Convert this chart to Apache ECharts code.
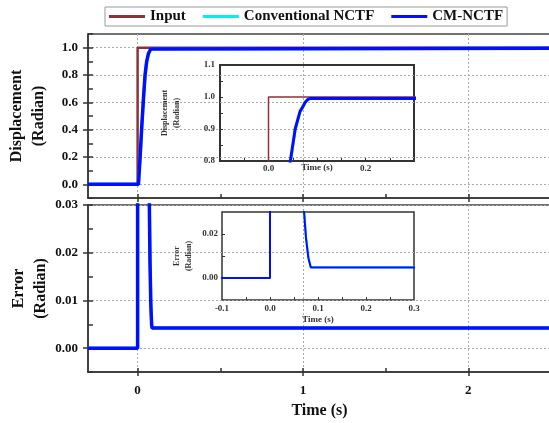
<!DOCTYPE html>
<html lang="en">
<head>
<meta charset="UTF-8">
<title>Displacement and error</title>
<script src="https://cdn.jsdelivr.net/npm/echarts@6/dist/echarts.min.js"></script>
<style>html,body{margin:0;padding:0;background:#fff;}</style>
</head>
<body>
<div id="pic1" style="width:549px;height:423px;"></div>
<script>
// values
var tInput = [-0.3, 0, 0, 2.5];
var yInput = [0, 0, 1, 1];

var tResp = [-0.3, 0.005, 0.015, 0.025, 0.035, 0.045, 0.055, 0.065, 0.071, 0.075, 0.08, 0.085, 0.088, 2.5];
var yConv = [0, 0, 0.19, 0.41, 0.61, 0.79, 0.895, 0.953, 0.969, 0.981, 0.991, 0.9955, 0.9958, 0.9958];
var yCM   = [0, 0, 0.2, 0.42, 0.62, 0.8, 0.9, 0.955, 0.97, 0.982, 0.991, 0.9955, 0.9958, 0.9958];

var tErr  = [-0.3, 0, 0, 0.065, 0.071, 0.075, 0.08, 0.085, 0.088, 2.5];
var eConv = [0, 0, 1, 0.047, 0.031, 0.019, 0.0095, 0.005, 0.0042, 0.0042];
var eCM   = [0, 0, 1, 0.045, 0.03, 0.018, 0.009, 0.0048, 0.0042, 0.0042];

// tick values
var xMajor = [0, 1, 2];
var xAll = [0, 0.5, 1, 1.5, 2];
var dispMajor = [0, 0.2, 0.4, 0.6, 0.8, 1.0];
var dispAll = [-0.1, 0, 0.1, 0.2, 0.3, 0.4, 0.5, 0.6, 0.7, 0.8, 0.9, 1.0, 1.1];
var errMajor = [0, 0.01, 0.02, 0.03];
var errAll = [-0.005, 0, 0.005, 0.01, 0.015, 0.02, 0.025, 0.03];
var zDispLabels = [0.8, 0.9, 1.0, 1.1];
var zDispTicks = [0.85, 0.9, 0.95, 1.0, 1.05];
var zTimeLabels1 = [0, 0.2];
var zTimeLabels2 = [-0.1, 0, 0.1, 0.2, 0.3];
var zTimeTicks = [-0.05, 0, 0.05, 0.1, 0.15, 0.2, 0.25];
var zErrLabels = [0, 0.02];
var zErrTicks = [0, 0.01, 0.02];

var names = ['Input', 'Conventional NCTF', 'CM-NCTF'];
var colors = ['#8c3238', '#00f0f0', '#0010ff'];

var serif = 'Liberation Serif';
var gridLine = {show: true, lineStyle: {color: '#aaa', type: [2, 2], width: 1}};
var axisLine = {show: true, onZero: false, lineStyle: {color: '#333', width: 1.5}};
var noLine = {show: false, onZero: false};

function pairs(ts, ys) {
    return ts.map(function (t, i) { return [t, ys[i]]; });
}

function line(name, gi, ts, ys, w) {
    var c = colors[names.indexOf(name)];
    return {
        name: name, type: 'line', xAxisIndex: gi, yAxisIndex: gi,
        data: pairs(ts, ys), showSymbol: false, symbol: 'none',
        lineStyle: {color: c, width: w}, itemStyle: {color: c},
        animation: false, clip: true
    };
}

var myChart = echarts.init(document.getElementById('pic1'));

var option = {
    backgroundColor: '#fff',
    animation: false,
    legend: {
        data: names, left: 105, top: 7,
        itemWidth: 36, itemHeight: 3, itemGap: 17, icon: 'rect',
        borderColor: '#999', borderWidth: 1, padding: [2, 4],
        textStyle: {fontFamily: serif, fontWeight: 'bold', fontSize: 15, color: '#111'}
    },
    grid: [
        {left: 88, top: 34, width: 463, height: 164, show: true, borderColor: '#444', borderWidth: 1.5, outerBoundsMode: 'none'},
        {left: 88, top: 205, width: 463, height: 167, show: true, borderColor: '#444', borderWidth: 1.5, outerBoundsMode: 'none'},
        {left: 220, top: 65, width: 194, height: 96, show: true, borderColor: '#333', borderWidth: 2, outerBoundsMode: 'none'},
        {left: 222, top: 212, width: 192, height: 88, show: true, borderColor: '#333', borderWidth: 1.5, outerBoundsMode: 'none'}
    ],
    xAxis: [
        // top panel
        {type: 'value', gridIndex: 0, min: -0.3, max: 2.5, position: 'bottom',
            axisLine: axisLine, splitLine: gridLine,
            axisTick: {customValues: xMajor, length: 4, lineStyle: {color: '#333', width: 1.5}},
            axisLabel: {show: false}},
        // bottom panel
        {type: 'value', gridIndex: 1, min: -0.3, max: 2.5, position: 'bottom',
            axisLine: axisLine, splitLine: gridLine,
            axisTick: {customValues: xMajor, length: 4, lineStyle: {color: '#333', width: 1.5}},
            axisLabel: {customValues: xMajor, margin: 12, fontFamily: serif, fontWeight: 'bold', fontSize: 13, color: '#111',
                formatter: function (v) { return String(Math.round(v)); }},
            name: 'Time (s)', nameLocation: 'middle', nameGap: 31, nameMoveOverlap: false,
            nameTextStyle: {fontFamily: serif, fontWeight: 'bold', fontSize: 16, color: '#111'}},
        // inset 1
        {type: 'value', gridIndex: 2, min: -0.1, max: 0.3, position: 'bottom',
            axisLine: noLine, splitLine: {show: false},
            axisTick: {customValues: zTimeTicks, inside: true, length: 3, lineStyle: {color: '#333'}},
            axisLabel: {customValues: zTimeLabels1, margin: 3, fontFamily: serif, fontWeight: 'bold', fontSize: 9, color: '#333',
                formatter: function (v) { return v.toFixed(1); }},
            name: 'Time (s)', nameLocation: 'middle', nameGap: 2, nameMoveOverlap: false,
            nameTextStyle: {fontFamily: serif, fontWeight: 'bold', fontSize: 9, color: '#333', verticalAlign: 'top'}},
        // inset 2
        {type: 'value', gridIndex: 3, min: -0.1, max: 0.3, position: 'bottom',
            axisLine: noLine, splitLine: {show: false},
            axisTick: {customValues: zTimeTicks, inside: true, length: 3, lineStyle: {color: '#333'}},
            axisLabel: {customValues: zTimeLabels2, margin: 4, fontFamily: serif, fontWeight: 'bold', fontSize: 9, color: '#333',
                formatter: function (v) { return v.toFixed(1); }},
            name: 'Time (s)', nameLocation: 'middle', nameGap: 15, nameMoveOverlap: false,
            nameTextStyle: {fontFamily: serif, fontWeight: 'bold', fontSize: 9, color: '#333', verticalAlign: 'top'}},
        // minor ticks, main panels
        {type: 'value', gridIndex: 0, min: -0.3, max: 2.5, position: 'bottom',
            axisLine: noLine, splitLine: {show: false}, axisLabel: {show: false},
            axisTick: {customValues: xAll, inside: true, length: 4, lineStyle: {color: '#333', width: 1.5}}},
        {type: 'value', gridIndex: 1, min: -0.3, max: 2.5, position: 'bottom',
            axisLine: noLine, splitLine: {show: false}, axisLabel: {show: false},
            axisTick: {customValues: xAll, inside: true, length: 4, lineStyle: {color: '#333', width: 1.5}}}
    ],
    yAxis: [
        {type: 'value', gridIndex: 0, min: -0.1, max: 1.1, position: 'left',
            axisLine: axisLine, splitLine: gridLine,
            axisTick: {customValues: dispMajor, length: 5, lineStyle: {color: '#333', width: 1.5}},
            axisLabel: {customValues: dispMajor, margin: 10, fontFamily: serif, fontWeight: 'bold', fontSize: 13, color: '#111',
                formatter: function (v) { return v.toFixed(1); }},
            name: 'Displacement\n(Radian)', nameLocation: 'middle', nameGap: 38, nameMoveOverlap: false,
            nameTextStyle: {fontFamily: serif, fontWeight: 'bold', fontSize: 16, lineHeight: 22, color: '#111'}},
        {type: 'value', gridIndex: 1, min: -0.005, max: 0.03, position: 'left',
            axisLine: axisLine, splitLine: gridLine,
            axisTick: {customValues: errMajor, length: 5, lineStyle: {color: '#333', width: 1.5}},
            axisLabel: {customValues: errMajor, margin: 10, fontFamily: serif, fontWeight: 'bold', fontSize: 13, color: '#111',
                formatter: function (v) { return v.toFixed(2); }},
            name: 'Error\n(Radian)', nameLocation: 'middle', nameGap: 36, nameMoveOverlap: false,
            nameTextStyle: {fontFamily: serif, fontWeight: 'bold', fontSize: 16, lineHeight: 22, color: '#111'}},
        {type: 'value', gridIndex: 2, min: 0.8, max: 1.1, position: 'left',
            axisLine: noLine, splitLine: {show: false},
            axisTick: {customValues: zDispTicks, inside: true, length: 3, lineStyle: {color: '#333'}},
            axisLabel: {customValues: zDispLabels, margin: 5, fontFamily: serif, fontWeight: 'bold', fontSize: 9, color: '#333',
                formatter: function (v) { return v.toFixed(1); }},
            name: 'Displacement\n(Radian)', nameLocation: 'middle', nameGap: 37, nameMoveOverlap: false,
            nameTextStyle: {fontFamily: serif, fontWeight: 'bold', fontSize: 8, lineHeight: 12, color: '#333'}},
        {type: 'value', gridIndex: 3, min: -0.01, max: 0.03, position: 'left',
            axisLine: noLine, splitLine: {show: false},
            axisTick: {customValues: zErrTicks, inside: true, length: 3, lineStyle: {color: '#333'}},
            axisLabel: {customValues: zErrLabels, margin: 4, fontFamily: serif, fontWeight: 'bold', fontSize: 9, color: '#333',
                formatter: function (v) { return v.toFixed(2); }},
            name: 'Error\n(Radian)', nameLocation: 'middle', nameGap: 27, nameMoveOverlap: false,
            nameTextStyle: {fontFamily: serif, fontWeight: 'bold', fontSize: 8, lineHeight: 12, color: '#333'}},
        {type: 'value', gridIndex: 0, min: -0.1, max: 1.1, position: 'left',
            axisLine: noLine, splitLine: {show: false}, axisLabel: {show: false},
            axisTick: {customValues: dispAll, inside: true, length: 5, lineStyle: {color: '#333', width: 1.5}}},
        {type: 'value', gridIndex: 1, min: -0.005, max: 0.03, position: 'left',
            axisLine: noLine, splitLine: {show: false}, axisLabel: {show: false},
            axisTick: {customValues: errAll, inside: true, length: 5, lineStyle: {color: '#333', width: 1.5}}}
    ],
    series: [
        line('Input', 0, tInput, yInput, 2.5),
        line('Conventional NCTF', 0, tResp, yConv, 3),
        line('CM-NCTF', 0, tResp, yCM, 3.5),
        line('Conventional NCTF', 1, tErr, eConv, 3),
        line('CM-NCTF', 1, tErr, eCM, 3.5),
        line('Input', 2, tInput, yInput, 1.5),
        line('Conventional NCTF', 2, tResp, yConv, 2.5),
        line('CM-NCTF', 2, tResp, yCM, 3),
        line('Conventional NCTF', 3, tErr, eConv, 2),
        line('CM-NCTF', 3, tErr, eCM, 2)
    ]
};

myChart.setOption(option);
</script>
</body>
</html>
